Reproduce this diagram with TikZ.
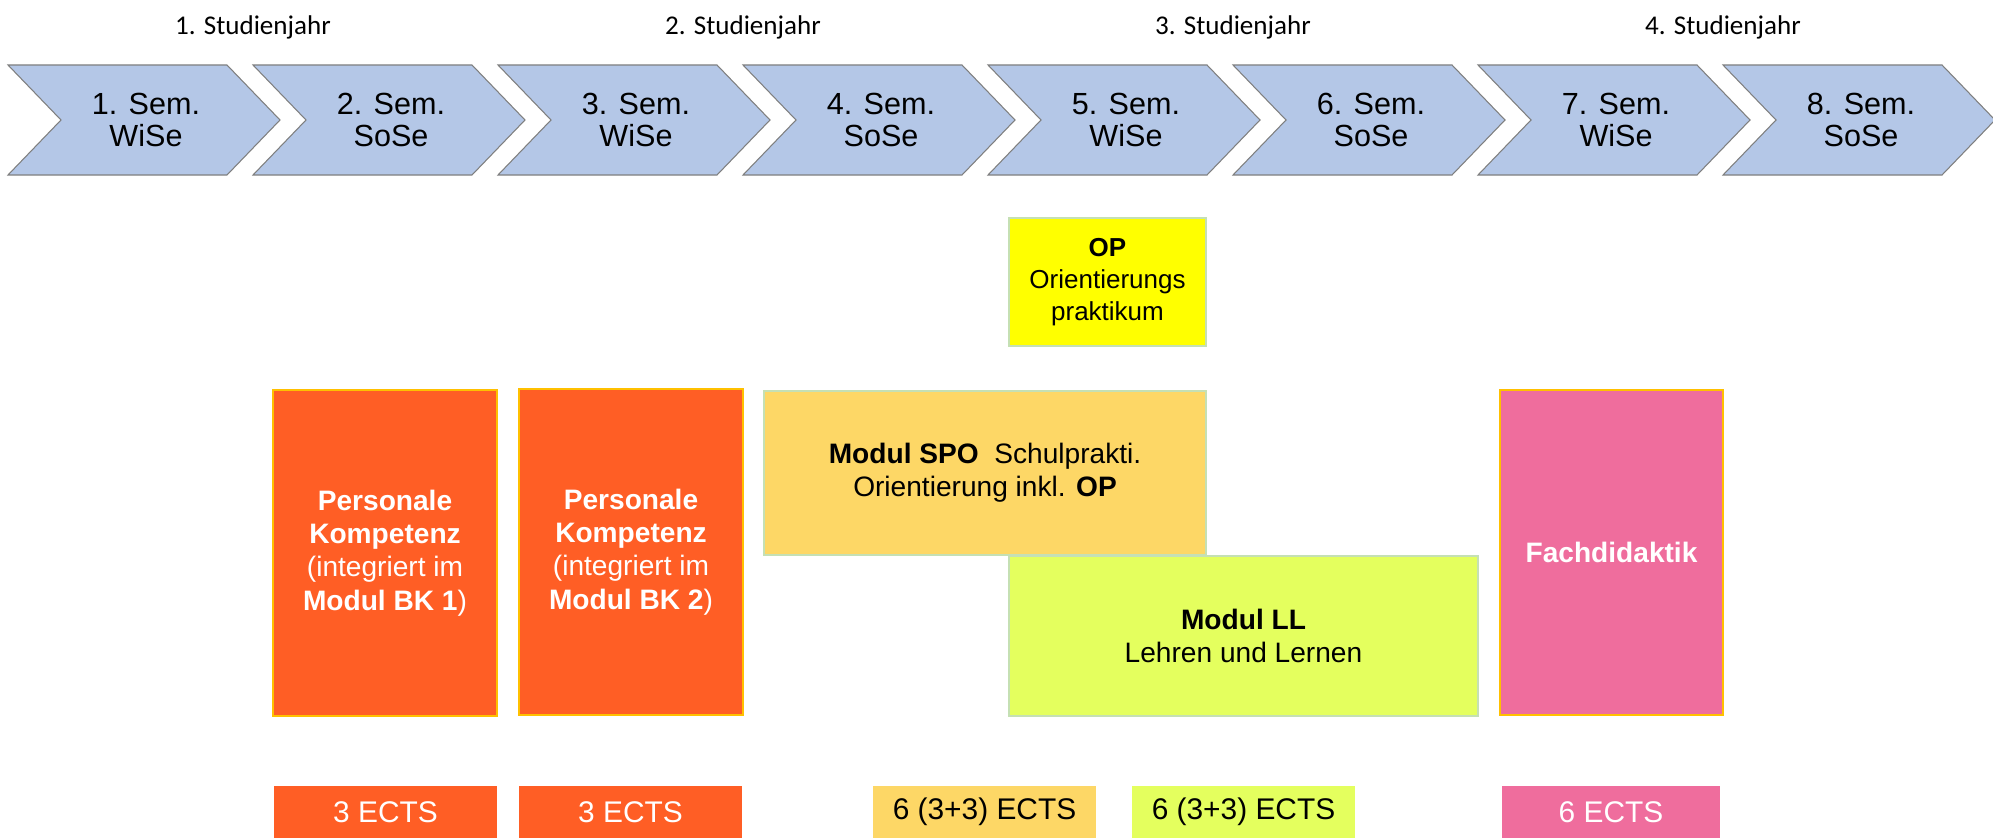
\documentclass[tikz,border=0pt]{standalone}
\usepackage{fontspec}
\setmainfont{Liberation Sans}
\newfontfamily\yearfont{Carlito}

\definecolor{semblue}{HTML}{B4C7E7}
\definecolor{semedge}{HTML}{7F7F7F}
\definecolor{pkorange}{HTML}{FF5E25}
\definecolor{opyellow}{HTML}{FFFF00}
\definecolor{spogold}{HTML}{FDD766}
\definecolor{lllime}{HTML}{E4FF5E}
\definecolor{fdpink}{HTML}{EF6D9D}
\definecolor{edgegold}{HTML}{FFC000}
\definecolor{edgegreen}{HTML}{C5E0B4}

\tikzset{
  chev/.style={fill=semblue, draw=semedge, line width=0.6pt},
  semtxt/.style={align=center, font=\fontsize{17.4}{18.6}\selectfont},
  yeartxt/.style={font=\yearfont\fontsize{15.4}{16}\selectfont},
  modbox/.style={align=center, inner sep=0pt, line width=0.7pt, font=\fontsize{16}{19}\selectfont},
  ectsbox/.style={minimum width=4.46cm, minimum height=1.04cm, inner sep=0pt, font=\fontsize{17}{19}\selectfont},
}

\begin{document}
\begin{tikzpicture}[x=0.02cm, y=-0.02cm]
\useasboundingbox (0,0) rectangle (1993,838);
% semester chevrons
\foreach \i/\sem in {1/WiSe,2/SoSe,3/WiSe,4/SoSe,5/WiSe,6/SoSe,7/WiSe,8/SoSe}{
  \pgfmathsetmacro{\xo}{8+245*(\i-1)}
  \draw[chev] (\xo,65) -- ++(219,0) -- ++(53,55) -- ++(-53,55) -- ++(-219,0) -- ++(53,-55) -- cycle;
  \node[semtxt] (sem\i) at (\xo+138,120) {\i. Sem.\\\sem};
}
% study years
\foreach \j in {1,...,4}{
  \node[yeartxt] (year\j) at ({8+245*(2*\j-1)},27) {\j. Studienjahr};
}
% modules
\node[modbox, fill=opyellow, draw=edgegreen, minimum width=3.94cm, minimum height=2.56cm,
  font=\fontsize{14.8}{18}\selectfont] (op) at (1107.5,282) {\textbf{OP}\\Orientierungs\\praktikum};
\node[modbox, fill=pkorange, draw=edgegold, text=white, minimum width=4.48cm, minimum height=6.52cm]
  (pk1) at (385,553) {\textbf{Personale}\\\textbf{Kompetenz}\\(integriert im\\\textbf{Modul BK 1})};
\node[modbox, fill=pkorange, draw=edgegold, text=white, minimum width=4.48cm, minimum height=6.52cm]
  (pk2) at (631,552) {\textbf{Personale}\\\textbf{Kompetenz}\\(integriert im\\\textbf{Modul BK 2})};
\node[modbox, fill=spogold, draw=edgegreen, minimum width=8.84cm, minimum height=3.28cm]
  (spo) at (985,473) {\textbf{Modul SPO}\ \ Schulprakti.\\Orientierung inkl. \textbf{OP}};
\node[modbox, fill=lllime, draw=edgegreen, minimum width=9.38cm, minimum height=3.2cm]
  (ll) at (1243.5,636) {\textbf{Modul LL}\\Lehren und Lernen};
\node[modbox, fill=fdpink, draw=edgegold, text=white, minimum width=4.46cm, minimum height=6.5cm]
  (fd) at (1611.5,552.5) {\textbf{Fachdidaktik}};
% credits
\node[ectsbox, fill=pkorange, text=white] (ects1) at (385.5,812) {3 ECTS};
\node[ectsbox, fill=pkorange, text=white] (ects2) at (630.5,812) {3 ECTS};
\node[ectsbox, fill=spogold] (ects3) at (984.5,812) {6 (3+3) ECTS};
\node[ectsbox, fill=lllime] (ects4) at (1243.5,812) {6 (3+3) ECTS};
\node[ectsbox, fill=fdpink, text=white, minimum width=4.36cm] (ects5) at (1611,812) {6 ECTS};
\end{tikzpicture}
\end{document}
